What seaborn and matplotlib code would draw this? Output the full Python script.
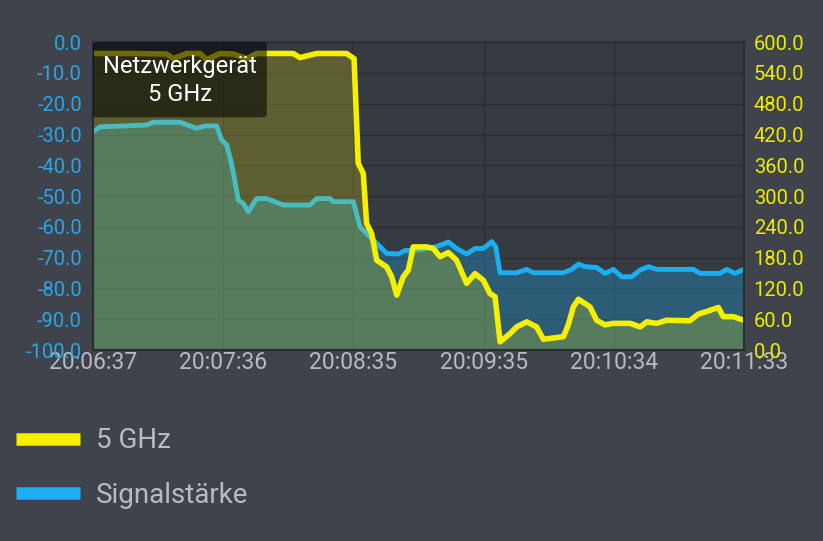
import numpy as np
import seaborn as sns
import matplotlib.pyplot as plt
from matplotlib.lines import Line2D
from matplotlib.patches import FancyBboxPatch

# seconds since 20:06:37
t_5ghz = [0, 18.3, 33.5, 36.5, 42.6, 48.7, 51.7, 57.7, 63.8, 69.9, 74.4, 91.1, 94.1,
          101.7, 115.3, 118.7, 120.6, 122.9, 124.4, 126.7, 129.0, 133.5, 135.8, 138.1,
          141.1, 143.4, 145.6, 151.7, 154.7, 157.8, 161.6, 165.3, 169.9, 173.7, 177.5,
          180.5, 182.8, 185.1, 189.6, 192.6, 197.2, 201.7, 204.8, 213.9, 216.1, 218.4,
          220.7, 226.0, 229.0, 232.8, 236.6, 244.2, 248.8, 251.8, 256.3, 260.8, 271.4,
          275.2, 279.0, 284.3, 286.6, 291.1, 296.0]
v_5ghz = [578, 578, 577, 568, 578, 578, 566, 578, 577, 568, 578, 578, 570,
          578, 578, 568, 364, 344, 247, 227, 175, 162, 143, 107,
          143, 156, 201, 201, 198, 182, 190, 175, 130, 149, 136,
          110, 104, 16, 32, 45, 55, 45, 21, 26, 49, 84,
          99, 84, 58, 49, 52, 52, 45, 55, 52, 58, 57,
          70, 75, 83, 65, 65, 58]

t_signal = [0, 3.2, 24.4, 27.4, 39.6, 47.1, 50.9, 56.2, 58.5, 60.8, 63.0, 66.1, 68.4,
            70.6, 74.4, 79.0, 86.5, 98.7, 101.7, 107.8, 109.3, 118.4, 121.4, 124.4,
            130.5, 133.5, 138.8, 141.9, 147.2, 156.3, 161.6, 165.3, 169.9, 173.7, 177.5,
            181.3, 183.1, 185.1, 192.6, 197.2, 200.2, 213.9, 217.6, 220.7, 223.7, 229.0,
            232.8, 236.6, 240.4, 244.9, 248.8, 252.6, 256.3, 273.0, 276.0, 285.1, 288.1,
            291.9, 296.0]
v_signal = [-29.1, -27.5, -26.9, -26.0, -26.0, -28.0, -27.2, -27.2, -31.8, -33.4, -39.4, -51.3, -52.4,
            -55.1, -50.8, -50.8, -52.9, -52.9, -50.8, -50.8, -51.8, -51.8, -60.0, -62.1,
            -66.4, -68.6, -68.8, -67.7, -67.5, -66.4, -64.9, -67.0, -68.8, -67.0, -67.0,
            -64.8, -66.4, -74.9, -74.9, -73.8, -74.9, -74.9, -73.8, -72.1, -72.9, -73.2,
            -75.1, -73.8, -76.2, -76.2, -74.0, -72.9, -73.8, -73.8, -75.1, -75.1, -73.8,
            -75.1, -73.8]

x_ticks = np.linspace(0, 296, 6)
x_labels = ['20:06:37', '20:07:36', '20:08:35', '20:09:35', '20:10:34', '20:11:33']
left_ticks = np.arange(-100, 1, 10)
right_ticks = np.arange(0, 601, 60)

BG = '#3f444c'
PLOT_BG = '#363a41'
GRID = '#2a2d32'
YELLOW = '#f5ef00'
BLUE = '#1aaff2'

sns.set_theme(style='dark')
plt.rcParams['font.family'] = ['Roboto', 'DejaVu Sans']

fig = plt.figure(figsize=(8.23, 5.41), dpi=100, facecolor=BG)
ax = fig.add_axes([0.113, 0.353, 0.791, 0.569])
ax.set_facecolor(PLOT_BG)
ax2 = ax.twinx()

# signal strength (left axis)
ax.fill_between(t_signal, v_signal, -100, color=BLUE, alpha=0.3, linewidth=0)
sns.lineplot(x=t_signal, y=v_signal, ax=ax, color=BLUE, linewidth=3.5)

# 5 GHz (right axis)
ax2.fill_between(t_5ghz, v_5ghz, 0, color=YELLOW, alpha=0.21, linewidth=0)
sns.lineplot(x=t_5ghz, y=v_5ghz, ax=ax2, color=YELLOW, linewidth=4)

ax.set_xlim(0, 296)
ax.set_ylim(-100, 0)
ax2.set_ylim(0, 600)
ax.set_xticks(x_ticks)
ax.set_xticklabels(x_labels)
ax.set_yticks(left_ticks)
ax.set_yticklabels([f'{v:.1f}' for v in left_ticks])
ax2.set_yticks(right_ticks)
ax2.set_yticklabels([f'{v:.1f}' for v in right_ticks])
ax.set_xlabel('')
ax.set_ylabel('')
ax2.set_ylabel('')

ax.grid(True, color=GRID, linewidth=1)
ax2.grid(False)
ax.tick_params(axis='x', colors='#b6bbc1', labelsize=16.5, length=0, pad=1)
ax.tick_params(axis='y', colors='#2ba5e8', labelsize=14.5, length=0, pad=8)
ax2.tick_params(axis='y', colors='#f0ec00', labelsize=14.5, length=0, pad=7)
for a in (ax, ax2):
    for s in a.spines.values():
        s.set_color(GRID)
        s.set_linewidth(1.5)

# tooltip box
box = FancyBboxPatch((0, 0.756), 0.267, 0.244, boxstyle='round,pad=0,rounding_size=0.008',
                     transform=ax2.transAxes, facecolor='black', alpha=0.55,
                     edgecolor='none', zorder=10, clip_on=False)
ax2.add_patch(box)
ax2.text(0.134, 0.876, 'Netzwerkgerät\n5 GHz', transform=ax2.transAxes, ha='center',
         va='center', color='white', fontsize=17, linespacing=1.25, zorder=11)

# legend
handles = [Line2D([], [], color=YELLOW, linewidth=9, solid_capstyle='butt'),
           Line2D([], [], color=BLUE, linewidth=9, solid_capstyle='butt')]
fig.legend(handles, ['5 GHz', 'Signalstärke'], loc='upper left',
           bbox_to_anchor=(0.019, 0.21), frameon=False, fontsize=20,
           handlelength=2.3, handletextpad=0.6, labelspacing=1.0,
           labelcolor='#b8bcc2', borderpad=0, borderaxespad=0)

plt.savefig('out.png', dpi=100, facecolor=BG)
